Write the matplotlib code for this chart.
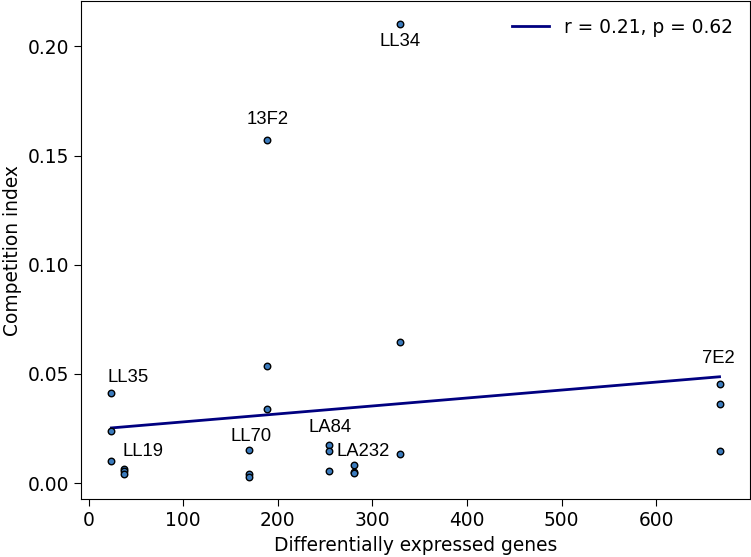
import numpy as np
import matplotlib
matplotlib.use("Agg")
import matplotlib.pyplot as plt

# differentially expressed genes per strain, and three competition index replicates
strains = ["LL35", "LL19", "LL70", "13F2", "LA84", "LA232", "LL34", "7E2"]
deg = [24, 37, 170, 189, 254, 280, 329, 667]
ci = [
    [0.0412, 0.0238, 0.0102],
    [0.0066, 0.0055, 0.0043],
    [0.0149, 0.0043, 0.0029],
    [0.1570, 0.0538, 0.0339],
    [0.0172, 0.0148, 0.0053],
    [0.0081, 0.0052, 0.0044],
    [0.2104, 0.0645, 0.0133],
    [0.0454, 0.0361, 0.0148],
]
legend_text = "r = 0.21, p = 0.62"

# label offsets in points from the top replicate of each strain
label_off = [(12, 11), (14, 12), (1, 10), (0, 15), (1, 13), (7, 10), (0, -13), (-1, 18)]

x_all = np.repeat(deg, 3)
y_all = np.concatenate(ci)

fig = plt.figure(figsize=(7.51, 5.57), dpi=100)
ax = fig.add_axes([0.1078, 0.1035, 0.8908, 0.8947])

ax.scatter(x_all, y_all, s=22, color="#3b7bbd", edgecolor="black", linewidth=1.0, zorder=3)

means = np.array([np.mean(c) for c in ci])
slope, icpt = np.polyfit(deg, means, 1)
xs = np.array([min(deg), max(deg)])
ax.plot(xs, slope * xs + icpt, color="navy", lw=2, label=legend_text)

for name, x, c, off in zip(strains, deg, ci, label_off):
    ax.annotate(name, (x, max(c)), xytext=off, textcoords="offset points",
                ha="center", va="center", fontsize=13.3, family="Liberation Sans")

ax.set_xticks([0, 100, 200, 300, 400, 500, 600])
ax.set_yticks([0.0, 0.05, 0.10, 0.15, 0.20])
ax.yaxis.set_major_formatter(matplotlib.ticker.FormatStrFormatter("%.2f"))
ax.tick_params(labelsize=13.4, length=5)
ax.set_xlabel("Differentially expressed genes", fontsize=13.4)
ax.set_ylabel("Competition index", fontsize=13.4)
ax.legend(loc="upper right", frameon=False, fontsize=13.4)

fig.savefig("out.png", dpi=100)
